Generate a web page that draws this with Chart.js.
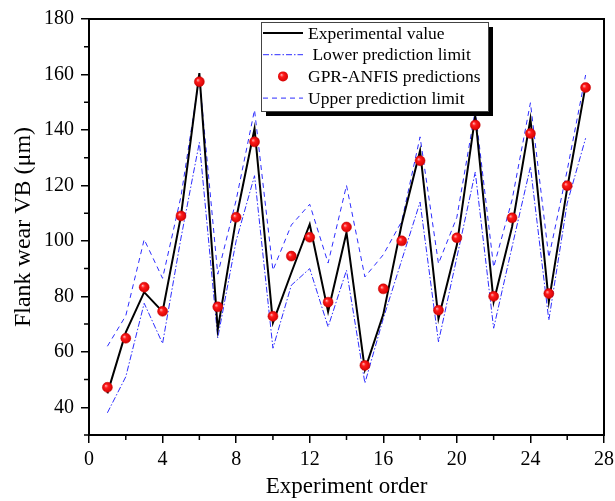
<!DOCTYPE html>
<html>
<head>
<meta charset="utf-8">
<script src="https://cdn.jsdelivr.net/npm/chart.js@4.4.1/dist/chart.umd.min.js"></script>
<style>
  html, body { margin: 0; padding: 0; background: #fff; }
</style>
</head>
<body>
<canvas id="wear" width="615" height="501"></canvas>
<script>
const order = [1, 2, 3, 4, 5, 6, 7, 8, 9, 10, 11, 12, 13, 14, 15, 16, 17, 18, 19, 20, 21, 22, 23, 24, 25, 26, 27];
const experimental = [45, 67, 81.5, 74.5, 109, 160.5, 68, 108, 140.5, 70.5, 88.5, 106, 74.5, 103, 53.5, 73.5, 106, 132.5, 72, 98.5, 145, 78, 105, 144, 78, 119, 156];
const lowerLimit = [38, 51, 77.5, 63, 101, 135.5, 65, 100, 123.5, 61.3, 84, 90, 69, 89.4, 48.7, 72, 93, 114, 63.6, 94, 124.8, 68.5, 97.8, 126.7, 71.4, 113.6, 137];
const gprAnfis = [47.2, 64.9, 83.3, 74.6, 109, 157.4, 76.2, 108.5, 135.7, 72.8, 94.5, 101.3, 77.9, 105, 55.1, 82.7, 100, 128.9, 75, 101.1, 141.8, 80, 108.3, 138.7, 81, 119.9, 155.3];
const upperLimit = [62, 73, 100.5, 86.5, 116, 159, 88, 114.7, 147.2, 89.4, 105.7, 113.2, 92, 120, 87, 95, 107, 137.5, 91.8, 108.5, 147, 90.5, 114.7, 149.8, 94, 125.5, 159.8];

const serif = "'Liberation Serif', 'Times New Roman', serif";
const blue = 'rgb(45,45,255)';

function pts(vals) {
  return order.map((o, i) => ({ x: o, y: vals[i] }));
}

function ballFill(c, x, y) {
  const g = c.createRadialGradient(x - 1.7, y - 1.7, 0, x, y, 5.5);
  g.addColorStop(0, '#ffb8b8');
  g.addColorStop(0.35, '#ff1a1a');
  g.addColorStop(1, '#d00000');
  return g;
}

// red ball look for the prediction markers
function ballColor(ctx) {
  const chart = ctx.chart;
  if (ctx.type !== 'data' || !chart.scales.x) return 'red';
  const x = chart.scales.x.getPixelForValue(ctx.raw.x);
  const y = chart.scales.y.getPixelForValue(ctx.raw.y);
  if (!isFinite(x) || !isFinite(y)) return 'red';
  return ballFill(chart.ctx, x, y);
}

const frameAndLegend = {
  id: 'frameAndLegend',
  afterDraw(chart) {
    const c = chart.ctx;
    const a = chart.chartArea;
    c.save();
    // box round the plot
    c.strokeStyle = '#000';
    c.lineWidth = 2;
    c.strokeRect(a.left, a.top, a.right - a.left, a.bottom - a.top);

    // short minor ticks
    c.lineWidth = 1.5;
    c.beginPath();
    for (let v = 2; v < 28; v += 4) {
      const px = chart.scales.x.getPixelForValue(v);
      c.moveTo(px, a.bottom);
      c.lineTo(px, a.bottom + 5);
    }
    for (let v = 30; v < 180; v += 20) {
      const py = chart.scales.y.getPixelForValue(v);
      c.moveTo(a.left, py);
      c.lineTo(a.left - 5, py);
    }
    c.stroke();

    // legend
    const bx = 261, by = 22, bw = 227, bh = 89;
    c.fillStyle = '#000';
    c.fillRect(bx + 5, by + 5, bw, bh);
    c.fillStyle = '#fff';
    c.fillRect(bx, by, bw, bh);
    c.strokeStyle = '#444';
    c.lineWidth = 1;
    c.strokeRect(bx + 0.5, by + 0.5, bw, bh);

    c.font = '17.5px ' + serif;
    c.textBaseline = 'middle';
    chart.data.datasets.forEach((ds, i) => {
      const ry = by + 11 + i * 21.7;
      if (ds.showLine === false) {
        c.beginPath();
        c.arc(283, ry, ds.pointRadius, 0, Math.PI * 2);
        c.fillStyle = ballFill(c, 283, ry);
        c.fill();
      } else {
        c.beginPath();
        c.setLineDash(ds.borderDash || []);
        c.strokeStyle = ds.borderColor;
        c.lineWidth = ds.borderWidth;
        c.moveTo(263, ry);
        c.lineTo(303, ry);
        c.stroke();
        c.setLineDash([]);
      }
      c.fillStyle = '#000';
      c.fillText(ds.label, 308, ry + 1);
    });
    c.restore();
  }
};

new Chart(document.getElementById('wear'), {
  type: 'line',
  data: {
    datasets: [
      {
        label: 'Experimental value',
        data: pts(experimental),
        borderColor: '#000',
        borderWidth: 2,
        pointRadius: 0,
        order: 1
      },
      {
        label: ' Lower prediction limit',
        data: pts(lowerLimit),
        borderColor: blue,
        borderWidth: 1,
        borderDash: [6, 2, 1.5, 2],
        pointRadius: 0,
        order: 2
      },
      {
        label: 'GPR-ANFIS predictions',
        data: pts(gprAnfis),
        showLine: false,
        pointRadius: 5,
        pointBackgroundColor: ballColor,
        pointBorderColor: '#c80000',
        pointBorderWidth: 0.5,
        order: 0
      },
      {
        label: 'Upper prediction limit',
        data: pts(upperLimit),
        borderColor: blue,
        borderWidth: 1,
        borderDash: [5, 4],
        pointRadius: 0,
        order: 2
      }
    ]
  },
  options: {
    responsive: false,
    animation: false,
    layout: { padding: { top: 19, right: 11, left: 0, bottom: 0 } },
    plugins: {
      legend: { display: false },
      tooltip: { enabled: false }
    },
    scales: {
      x: {
        type: 'linear',
        min: 0,
        max: 28,
        border: { display: false },
        grid: {
          drawOnChartArea: false,
          tickLength: 8,
          lineWidth: 1.5,
          color: ctx => (ctx.tick && ctx.tick.value % 4 === 0) ? '#000' : 'rgba(0,0,0,0)'
        },
        ticks: {
          stepSize: 2,
          autoSkip: false,
          maxRotation: 0,
          padding: 5,
          color: '#000',
          font: { family: serif, size: 20 },
          callback: v => v % 4 === 0 ? v : ''
        },
        title: {
          display: true,
          text: 'Experiment order',
          color: '#000',
          font: { family: serif, size: 23 },
          padding: { top: 0, bottom: 0 }
        },
        afterFit: s => { s.height = 66; s.paddingLeft = 0; s.paddingRight = 0; }
      },
      y: {
        min: 30,
        max: 180,
        border: { display: false },
        grid: {
          drawOnChartArea: false,
          tickLength: 8,
          lineWidth: 1.5,
          color: ctx => (ctx.tick && ctx.tick.value % 20 === 0) ? '#000' : 'rgba(0,0,0,0)'
        },
        ticks: {
          stepSize: 10,
          autoSkip: false,
          padding: 7,
          color: '#000',
          font: { family: serif, size: 20 },
          callback: v => v % 20 === 0 ? v : ''
        },
        title: {
          display: true,
          text: 'Flank wear VB (\u03bcm)',
          color: '#000',
          font: { family: serif, size: 24 },
          padding: { top: 9, bottom: 0 }
        },
        afterFit: s => { s.width = 89; s.paddingTop = 0; s.paddingBottom = 0; }
      }
    }
  },
  plugins: [frameAndLegend]
});
</script>
</body>
</html>
